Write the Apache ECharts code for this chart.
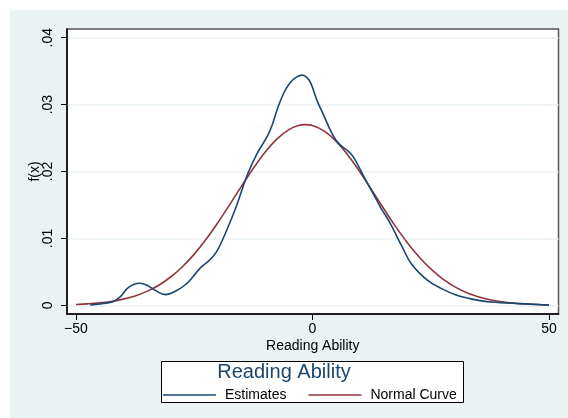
<!DOCTYPE html>
<html>
<head>
<meta charset="utf-8">
<script src="https://cdn.jsdelivr.net/npm/echarts@6/dist/echarts.min.js"></script>
<style>
  html, body { margin: 0; padding: 0; background: #ffffff; }
  #wrap { position: relative; width: 568px; height: 418px; }
  #bg { position: absolute; left: 10px; top: 10px; width: 558px; height: 408px; background: #eaf2f3; }
  #chart { position: absolute; left: 0; top: 0; width: 568px; height: 418px; }
</style>
</head>
<body>
<div id="wrap">
  <div id="bg"></div>
  <div id="chart"></div>
</div>
<script>
// Kernel density estimate of reading ability: [score, density]
const estimates = [
  [-47, 0.00005], [-45, 0.0002], [-43, 0.0004], [-42, 0.0006], [-40.6, 0.0013],
  [-39.2, 0.0025], [-37.8, 0.0031], [-36.5, 0.0033], [-35, 0.0030], [-33.2, 0.0022],
  [-31.1, 0.0016], [-29, 0.0021], [-26.5, 0.0033], [-23.7, 0.0056], [-22, 0.0066],
  [-20.2, 0.0081], [-18.1, 0.0113], [-16, 0.0150], [-13.9, 0.0193], [-11.7, 0.0227],
  [-9.6, 0.0252], [-8.6, 0.0268], [-7.5, 0.0292], [-6.1, 0.0317], [-4.7, 0.0333],
  [-3.4, 0.0341], [-2.2, 0.0344], [-1.1, 0.0340], [-0.3, 0.0331], [0.9, 0.0307],
  [2.3, 0.0285], [4.1, 0.0257], [5.5, 0.0242], [7.6, 0.0230], [8.7, 0.0221],
  [10.8, 0.0193], [12.9, 0.0166], [14.5, 0.0145], [16.4, 0.0123], [18.9, 0.0088],
  [21, 0.0061], [24.2, 0.0038], [27, 0.0026], [30.5, 0.0015], [35.4, 0.0007],
  [39.6, 0.0004], [43.9, 0.00025], [48.1, 0.0001], [50, 0.00005]
];

// Normal reference curve: [score, density]
const normalCurve = [
  [-50, 0.00013], [-47.5, 0.00022], [-45, 0.00036], [-42.5, 0.00058], [-40, 0.00092],
  [-37.5, 0.0014], [-35, 0.00208], [-32.5, 0.0030], [-30, 0.00423], [-27.5, 0.00577],
  [-25, 0.00765], [-22.5, 0.00986], [-20, 0.01236], [-17.5, 0.01505], [-15, 0.01781],
  [-12.5, 0.02048], [-10, 0.0229], [-7.5, 0.02487], [-5, 0.02625], [-3, 0.02686],
  [-1.5, 0.02700], [0, 0.02686], [2.5, 0.02603], [5, 0.0245], [7.5, 0.02244],
  [10, 0.01996], [12.5, 0.01726], [15, 0.0145], [17.5, 0.01184], [20, 0.0094],
  [22.5, 0.00725], [25, 0.00544], [27.5, 0.00396], [30, 0.0028], [32.5, 0.00193],
  [35, 0.00129], [37.5, 0.00084], [40, 0.00053], [42.5, 0.00032], [45, 0.00019],
  [47.5, 0.00011], [50, 0.00006]
];

const xTicks = [-50, 0, 50];
const yTicks = [0, 0.01, 0.02, 0.03, 0.04];
const seriesNames = ['Estimates', 'Normal Curve'];
const legendTitle = 'Reading Ability';
const xTitle = 'Reading Ability';
const yTitle = 'f(x)';

const FONT = '"Liberation Sans", Arial, sans-serif';
const BLUE = '#1a476f';
const RED = '#90353b';

const fmtX = v => (v < 0 ? '\u2212' + Math.abs(v) : String(v));
const fmtY = v => (v === 0 ? '0' : String(Number(v.toFixed(2))).replace(/^0\./, '.'));

const chart = echarts.init(document.getElementById('chart'), null, { renderer: 'canvas' });

chart.setOption({
  animation: false,
  backgroundColor: 'transparent',
  grid: {
    left: 67, top: 29, right: 9.5, bottom: 104,
    show: true, backgroundColor: '#ffffff',
    borderColor: '#555555', borderWidth: 1.5
  },
  title: {
    text: legendTitle,
    left: 'center',
    top: 357,
    textStyle: { color: BLUE, fontFamily: FONT, fontSize: 20, fontWeight: 'normal' }
  },
  legend: {
    data: seriesNames,
    icon: 'rect',
    left: 163,
    top: 388,
    padding: 0,
    itemWidth: 53,
    itemHeight: 1.6,
    itemGap: 22,
    textStyle: { color: '#000', fontFamily: FONT, fontSize: 14, padding: [0, 0, 0, 4] }
  },
  graphic: [{
    type: 'rect',
    z: -1,
    shape: { x: 161.5, y: 361.5, width: 302, height: 41 },
    style: { fill: '#ffffff', stroke: '#000000', lineWidth: 1 }
  }],
  xAxis: {
    type: 'value',
    min: -51.9, max: 52,
    name: xTitle,
    nameLocation: 'middle',
    nameGap: 25,
    nameMoveOverlap: false,
    nameTextStyle: { color: '#000', fontFamily: FONT, fontSize: 14 },
    axisLine: { show: true, onZero: false, lineStyle: { color: '#000', width: 1.5 } },
    axisTick: { show: true, length: 6, customValues: xTicks, lineStyle: { color: '#000', width: 1 } },
    axisLabel: { customValues: xTicks, formatter: fmtX, margin: 8, color: '#000', fontFamily: FONT, fontSize: 14 },
    splitLine: { show: false }
  },
  yAxis: {
    type: 'value',
    min: -0.0013, max: 0.0413,
    name: yTitle,
    nameLocation: 'middle',
    nameGap: 25,
    nameMoveOverlap: false,
    nameRotate: 90,
    nameTextStyle: { color: '#000', fontFamily: FONT, fontSize: 14 },
    axisLine: { show: true, onZero: false, lineStyle: { color: '#000', width: 1.5 } },
    axisTick: { show: true, length: 6, customValues: yTicks, lineStyle: { color: '#000', width: 1 } },
    axisLabel: { customValues: yTicks, formatter: fmtY, rotate: 90, margin: 12, color: '#000', fontFamily: FONT, fontSize: 14 },
    splitLine: { show: true, lineStyle: { color: '#eaf2f3', width: 1.5 } }
  },
  series: [
    {
      name: seriesNames[0],
      type: 'line',
      data: estimates,
      showSymbol: false,
      symbol: 'none',
      smooth: 0.4,
      lineStyle: { color: BLUE, width: 1.6 },
      itemStyle: { color: BLUE },
      z: 3
    },
    {
      name: seriesNames[1],
      type: 'line',
      data: normalCurve,
      showSymbol: false,
      symbol: 'none',
      smooth: 0.4,
      lineStyle: { color: RED, width: 1.6 },
      itemStyle: { color: RED },
      z: 2
    }
  ]
});
</script>
</body>
</html>
